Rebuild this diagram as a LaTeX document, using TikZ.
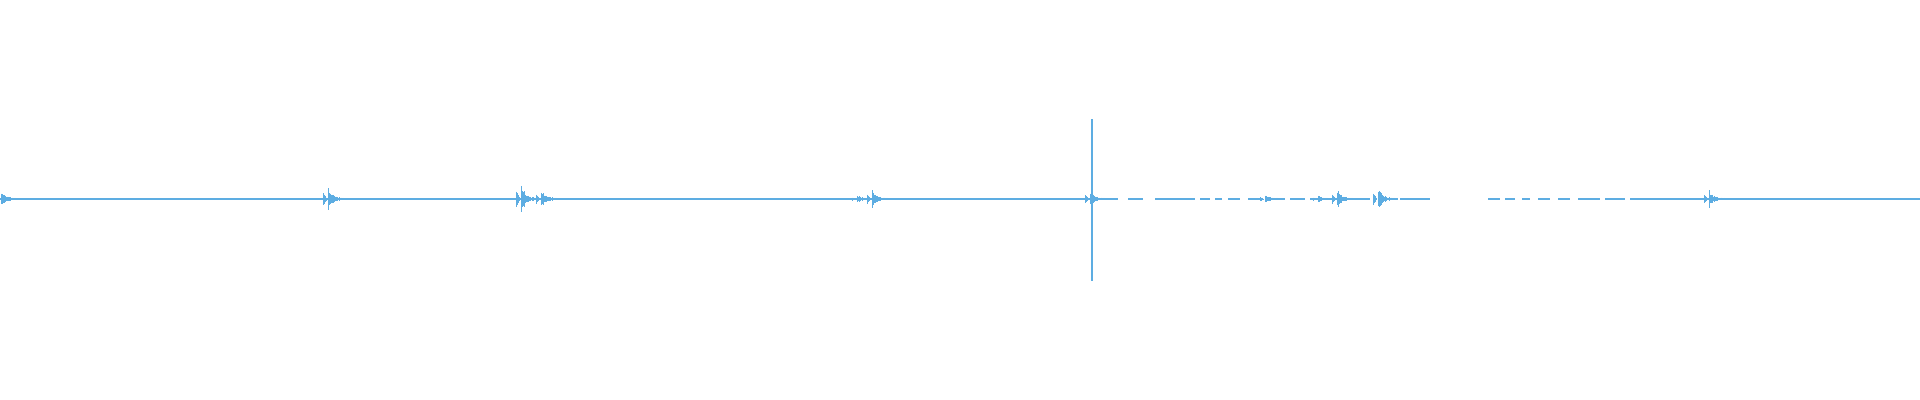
\documentclass[tikz,border=0pt]{standalone}
\definecolor{wave}{RGB}{93,173,226}
\tikzset{
  trace/.style={wave, line width=0.3pt},
  spike/.style={wave, line width=0.28pt}
}
% burst: x position, peak amplitude (px)
\newcommand{\burst}[2]{%
  \foreach \i in {0,...,18}{%
    \pgfmathsetmacro{\a}{#2*exp(-\i/4)*(0.5+0.5*abs(rand))+0.8}
    \draw[spike] (#1+\i*1.1,199-\a) -- (#1+\i*1.1,199+\a);
  }%
  \foreach \i in {1,...,4}{%
    \pgfmathsetmacro{\a}{#2*0.5*\i/4}
    \draw[spike] (#1-\i*1.1,199-\a) -- (#1-\i*1.1,199+\a);
  }%
}
\begin{document}
\begin{tikzpicture}[x=0.01cm,y=-0.01cm]
  \pgfmathsetseed{7}
  \useasboundingbox (0,0) rectangle (1920,400);
  % baseline
  \draw[trace] (0,199) -- (1118,199);
  \draw[trace] (1128,199) -- (1143,199);
  \draw[trace] (1155,199) -- (1195,199);
  \foreach \s/\e in {1200/1210,1215/1222,1228/1240,1248/1262,1268/1280,1290/1305,1310/1330,1335/1370,1378/1395,1400/1430}
    \draw[trace] (\s,199) -- (\e,199);
  \foreach \s/\e in {1488/1500,1505/1515,1522/1530,1538/1550,1558/1570,1578/1600,1605/1625}
    \draw[trace] (\s,199) -- (\e,199);
  \draw[trace] (1630,199) -- (1920,199);
  % bursts
  \burst{1}{8}
  \burst{328}{12}
  \burst{521}{15}
  \burst{541}{9}
  \burst{857}{3}
  \burst{872}{9}
  \burst{1090}{8}
  \burst{1265}{4}
  \burst{1318}{3}
  \burst{1337}{9}
  \burst{1378}{11}
  \burst{1709}{8}
  % main spike
  \draw[spike, line width=0.4pt] (1092,119) -- (1092,281);
\end{tikzpicture}
\end{document}
